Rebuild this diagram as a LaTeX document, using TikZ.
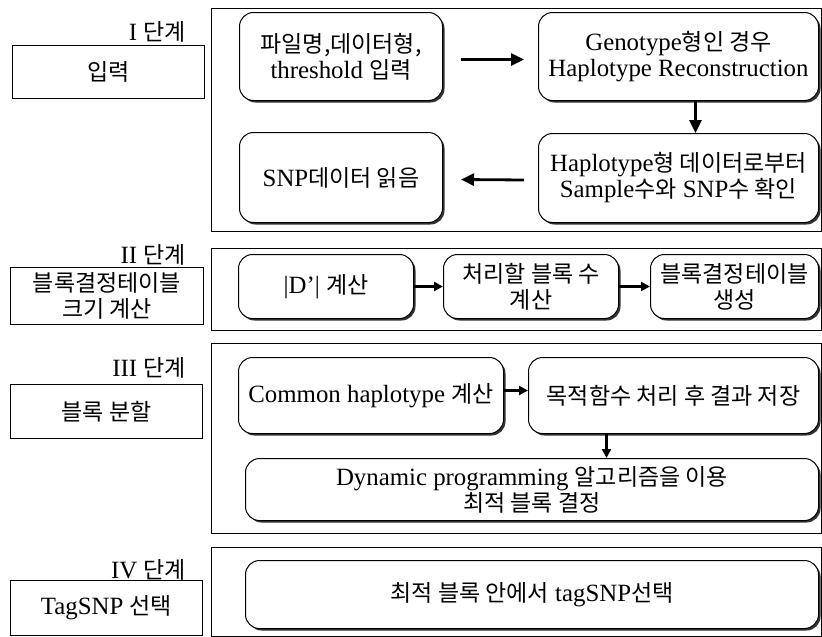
\documentclass[tikz,border=0pt]{standalone}
\usepackage{fontspec}
\setmainfont{Liberation Serif}[Scale=1.08]
\newfontfamily\kr{Noto Sans CJK KR}
\usetikzlibrary{shadows,arrows.meta}
\tikzset{
  basefont/.style={font=\fontsize{23}{26}\selectfont},
  panel/.style={draw, line width=0.9pt, anchor=north west, inner sep=0pt},
  stagebox/.style={draw, line width=0.9pt, anchor=north west, align=center, inner sep=1pt, basefont},
  stagelabel/.style={anchor=east, inner sep=0pt, basefont},
  proc/.style={draw, rounded corners=14pt, line width=1pt, anchor=north west, align=center,
    fill=white, inner sep=1pt, basefont,
    drop shadow={shadow xshift=2pt, shadow yshift=-2pt, fill=black!80, opacity=1}},
  arrbig/.style={-{Triangle[length=13pt,width=12pt]}, line width=2.8pt},
  arrsmall/.style={-{Triangle[length=9pt,width=9pt]}, line width=2.4pt}
}
\begin{document}
\begin{tikzpicture}[x=1pt,y=-1pt]
\useasboundingbox (0,0) rectangle (822,637);
% ---------- Stage I ----------
\node[stagelabel] (l1) at (186,32) {I {\kr 단계}};
\node[stagebox, minimum width=192pt, minimum height=53pt] (s1) at (12,45) {{\kr 입력}};
\node[panel, minimum width=610pt, minimum height=223pt] (p1) at (211,8) {};
\node[proc, minimum width=203pt, minimum height=88pt] (b11) at (239,12)
  {{\kr 파일명,데이터형,}\\threshold {\kr 입력}};
\node[proc, minimum width=280pt, minimum height=88pt] (b12) at (538,12)
  {Genotype{\kr 형인 경우}\\Haplotype Reconstruction};
\node[proc, minimum width=280pt, minimum height=89pt] (b13) at (538,133)
  {Haplotype{\kr 형 데이터로부터}\\Sample{\kr 수와} SNP{\kr 수 확인}};
\node[proc, minimum width=203pt, minimum height=90pt] (b14) at (239,132)
  {SNP{\kr 데이터 읽음}};
\draw[arrbig] ([xshift=18pt,yshift=-3pt]b11.east) -- ([xshift=-14pt,yshift=-3pt]b12.west);
\draw[arrbig] ([xshift=17pt]b12.south) -- ([xshift=17pt]b13.north);
\draw[arrbig] ([xshift=-14pt,yshift=-2pt]b13.west) -- ([xshift=18pt,yshift=-2pt]b14.east);
% ---------- Stage II ----------
\node[stagelabel] (l2) at (186,255) {II {\kr 단계}};
\node[stagebox, minimum width=193pt, minimum height=57pt] (s2) at (10,267)
  {{\kr 블록결정테이블}\\{\kr 크기 계산}};
\node[panel, minimum width=610pt, minimum height=82pt] (p2) at (211,248) {};
\node[proc, minimum width=175pt, minimum height=64pt] (b21) at (238,254)
  {|D'| {\kr 계산}};
\node[proc, minimum width=175pt, minimum height=64pt] (b22) at (443,254)
  {{\kr 처리할 블록 수}\\{\kr 계산}};
\node[proc, minimum width=168pt, minimum height=64pt] (b23) at (650,254)
  {{\kr 블록결정테이블}\\{\kr 생성}};
\draw[arrsmall] (b21) -- (b22);
\draw[arrsmall] (b22) -- (b23);
% ---------- Stage III ----------
\node[stagelabel] (l3) at (186,368) {III {\kr 단계}};
\node[stagebox, minimum width=192pt, minimum height=54pt] (s3) at (10,384) {{\kr 블록 분할}};
\node[panel, minimum width=610pt, minimum height=190pt] (p3) at (211,343) {};
\node[proc, minimum width=265pt, minimum height=76pt] (b31) at (238,357)
  {Common haplotype {\kr 계산}};
\node[proc, minimum width=290pt, minimum height=76pt] (b32) at (528,357)
  {{\kr 목적함수 처리 후 결과 저장}};
\node[proc, minimum width=573pt, minimum height=62pt] (b33) at (245,458)
  {Dynamic programming {\kr 알고리즘을 이용}\\{\kr 최적 블록 결정}};
\draw[arrsmall] ([yshift=5pt]b31.east) -- ([yshift=5pt]b32.west);
\draw[arrsmall] ([xshift=-67pt]b32.south) -- ([xshift=74.5pt]b33.north);
% ---------- Stage IV ----------
\node[stagelabel] (l4) at (186,570) {IV {\kr 단계}};
\node[stagebox, minimum width=192pt, minimum height=55pt] (s4) at (10,580) {TagSNP {\kr 선택}};
\node[panel, minimum width=610pt, minimum height=89pt] (p4) at (211,547) {};
\node[proc, minimum width=573pt, minimum height=68pt] (b41) at (245,560)
  {{\kr 최적 블록 안에서} tagSNP{\kr 선택}};
\end{tikzpicture}
\end{document}
